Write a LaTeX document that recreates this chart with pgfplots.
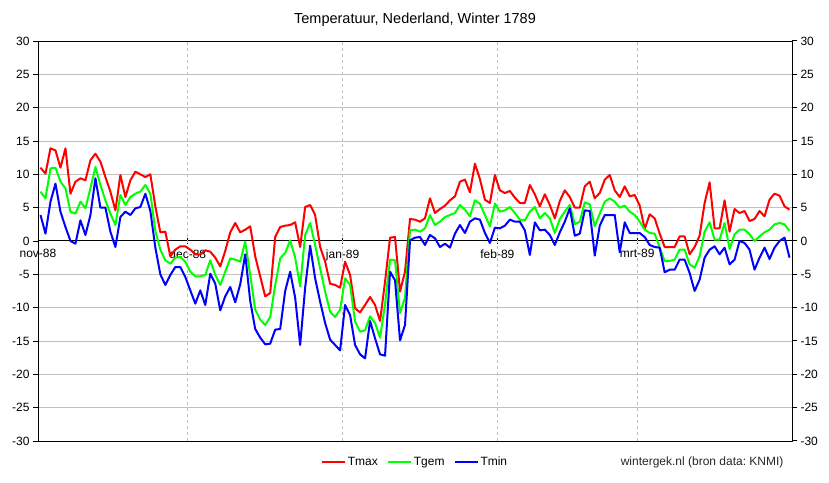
\documentclass[border=0pt]{standalone}
\usepackage{pgfplots}
\usepackage{pgfplotstable}
\pgfplotsset{compat=1.18}
\usepackage{fontspec}
\setmainfont{Liberation Sans}
\frenchspacing

\newcommand\chartfont{\fontsize{12bp}{14bp}\selectfont}
\newcommand\titlefont{\fontsize{14.5bp}{17bp}\selectfont}

\definecolor{tmaxc}{RGB}{255,0,0}
\definecolor{tgemc}{RGB}{0,255,0}
\definecolor{tminc}{RGB}{0,0,255}
\definecolor{gridc}{RGB}{192,192,192}

% daily temperatures, day 0 = 1 Nov 1788, day 150 = 31 Mar 1789
\pgfplotstableread{
d tmax tgem tmin
0 11.0 7.4 3.9
1 10.1 6.4 1.1
2 13.9 10.9 5.9
3 13.6 11.0 8.6
4 11.0 8.9 4.4
5 13.9 7.9 2.1
6 7.1 4.4 0.0
7 8.9 4.1 -0.4
8 9.4 5.9 3.1
9 9.1 4.9 0.9
10 12.1 7.9 3.9
11 13.1 11.1 9.4
12 11.9 8.4 5.0
13 9.6 6.1 5.0
14 7.4 4.1 1.4
15 4.6 2.4 -0.9
16 9.9 6.9 3.6
17 6.6 5.4 4.4
18 9.1 6.6 3.9
19 10.4 7.1 4.9
20 10.0 7.4 5.1
21 9.6 8.4 7.1
22 10.0 7.1 4.5
23 5.2 1.5 -1.0
24 1.3 -1.3 -5.0
25 1.4 -2.9 -6.6
26 -2.3 -3.4 -5.1
27 -1.3 -2.5 -3.9
28 -0.8 -2.4 -3.9
29 -0.8 -3.1 -5.4
30 -1.3 -4.6 -7.4
31 -2.0 -5.3 -9.4
32 -2.0 -5.3 -7.4
33 -1.4 -5.1 -9.6
34 -1.6 -2.9 -4.9
35 -2.5 -5.1 -6.4
36 -3.8 -6.6 -10.4
37 -1.5 -4.6 -8.3
38 1.3 -2.6 -6.9
39 2.7 -2.8 -9.2
40 1.3 -3.1 -6.5
41 1.7 -0.1 -2.0
42 2.2 -5.1 -9.0
43 -2.3 -10.3 -13.2
44 -5.3 -11.8 -14.5
45 -8.3 -12.6 -15.5
46 -7.8 -11.4 -15.4
47 0.6 -6.6 -13.3
48 2.1 -2.6 -13.2
49 2.3 -1.8 -7.5
50 2.4 0.1 -4.6
51 2.8 -2.5 -8.5
52 -0.9 -6.8 -15.6
53 5.1 0.9 -7.0
54 5.4 2.7 -0.7
55 3.9 -0.6 -5.6
56 -0.9 -4.1 -9.1
57 -3.1 -7.6 -12.3
58 -6.4 -10.6 -14.8
59 -6.6 -11.4 -15.6
60 -7.0 -10.3 -16.4
61 -3.1 -5.6 -9.6
62 -5.1 -6.6 -11.1
63 -10.1 -12.1 -15.6
64 -10.7 -13.6 -17.0
65 -9.6 -13.4 -17.6
66 -8.4 -11.3 -12.0
67 -9.6 -12.3 -14.6
68 -12.0 -14.5 -17.0
69 -6.1 -9.5 -17.2
70 0.5 -2.8 -4.6
71 0.6 -2.9 -5.9
72 -7.6 -10.8 -14.9
73 -4.6 -8.5 -12.6
74 3.3 1.6 0.1
75 3.2 1.7 0.5
76 2.9 1.4 0.6
77 3.4 1.9 -0.6
78 6.4 3.9 0.9
79 4.2 2.4 0.4
80 4.8 2.9 -0.9
81 5.3 3.6 -0.4
82 6.1 3.9 -1.0
83 6.7 4.2 1.1
84 8.9 5.4 2.4
85 9.2 4.7 1.2
86 7.3 3.7 2.9
87 11.6 6.1 3.4
88 9.3 5.6 3.2
89 6.2 3.9 1.2
90 5.7 2.2 -0.3
91 9.9 5.6 2.0
92 7.6 4.4 1.9
93 7.2 4.6 2.3
94 7.5 5.1 3.2
95 6.5 4.2 2.9
96 5.7 3.2 2.9
97 5.7 3.1 1.6
98 8.4 4.4 -2.1
99 7.0 5.1 2.8
100 5.2 3.4 1.6
101 7.0 4.2 1.7
102 5.4 3.4 0.9
103 3.4 1.2 -0.6
104 6.0 3.3 1.3
105 7.6 4.4 2.9
106 6.6 5.4 4.9
107 5.0 2.5 0.8
108 5.0 2.9 1.1
109 8.2 5.8 4.6
110 8.9 5.5 4.5
111 6.4 2.2 -2.2
112 7.2 4.1 2.3
113 9.2 5.9 3.9
114 9.9 6.4 3.9
115 7.6 5.9 3.9
116 6.6 5.0 -1.7
117 8.2 5.3 2.8
118 6.7 4.4 1.2
119 6.9 3.9 1.2
120 5.3 2.9 1.2
121 1.8 1.7 0.6
122 4.0 1.2 -0.6
123 3.4 1.1 -0.9
124 1.1 -1.0 -1.0
125 -0.9 -3.0 -4.7
126 -0.9 -3.0 -4.3
127 -0.9 -2.8 -4.3
128 0.7 -1.3 -2.8
129 0.7 -1.3 -2.8
130 -2.0 -3.5 -4.8
131 -0.9 -4.0 -7.5
132 0.8 -2.3 -5.8
133 5.7 1.4 -2.5
134 8.8 2.8 -1.3
135 1.9 0.2 -0.8
136 1.9 0.2 -2.0
137 6.1 2.7 -1.0
138 1.4 -1.2 -3.5
139 4.8 1.0 -2.8
140 4.2 1.7 0.0
141 4.5 1.7 -0.3
142 3.0 1.0 -1.3
143 3.3 0.0 -4.3
144 4.5 0.7 -2.5
145 3.7 1.3 -1.0
146 6.2 1.7 -2.7
147 7.1 2.5 -1.0
148 6.8 2.7 0.0
149 5.2 2.5 0.5
150 4.7 1.5 -2.5
}\tempdata

\pgfplotsset{
  frame/.style={
    scale only axis,
    width=754bp, height=400bp,
    xmin=-0.5, xmax=150.5,
    ymin=-30, ymax=30,
    /pgf/number format/assume math mode=true,
    tick label style={font=\chartfont, text=black},
    axis line style={black, line width=1bp},
    major tick length=5bp,
  },
}

\begin{document}
\begin{tikzpicture}
\path[use as bounding box] (-38bp,-42bp) rectangle (791bp,441bp);

% x axis through zero with the month ticks
\begin{axis}[frame,
  axis x line=middle, axis y line=none,
  axis line style={-, black, line width=1bp},
  xtick={-0.5,29.5,60.5,91.5,119.5},
  xticklabels={nov-88,dec-88,jan-89,feb-89,mrt-89},
  tick align=center, major tick length=6bp,
  tick style={black, line width=1bp},
  xticklabel style={anchor=north, yshift=-2bp},
  ytick=\empty,
]
\end{axis}

% framed plot area with the three series
\begin{axis}[frame,
  axis on top=false,
  clip=false,
  ytick={-30,-25,-20,-15,-10,-5,5,10,15,20,25,30},
  extra y ticks={0},
  extra y tick style={grid=none},
  ytick pos=left, tick align=outside,
  tick style={black, line width=1bp},
  ymajorgrids, y grid style={gridc, line width=1bp},
  xtick={29.5,60.5,91.5,119.5}, xticklabels={},
  xmajorticks=false,
  xmajorgrids, x grid style={gridc, line width=1bp, dash pattern=on 3bp off 3bp},
  no markers,
  every axis plot/.append style={line width=2bp, line join=round},
  legend columns=3,
  legend image code/.code={\draw[#1] (0bp,0bp) -- (23bp,0bp);},
  legend style={at={(0.5,-0.0525)}, anchor=center, draw=none, fill=none,
    font=\chartfont, inner sep=0pt,
    nodes={inner sep=1.5bp},
    /tikz/every even column/.append style={column sep=8bp}},
]
\addplot[tmaxc] table[x=d, y=tmax] {\tempdata};
\addplot[tgemc] table[x=d, y=tgem] {\tempdata};
\addplot[tminc] table[x=d, y=tmin] {\tempdata};
\legend{Tmax,Tgem,Tmin}
\node[font=\titlefont, anchor=center] at (rel axis cs:0.5,1.0525) {Temperatuur, Nederland, Winter 1789};
\node[font=\chartfont, text=black!85, anchor=east] at (rel axis cs:0.9934,-0.0525) {wintergek.nl (bron data: KNMI)};
\end{axis}

% tick labels repeated on the right
\begin{axis}[frame,
  axis x line=none, axis y line=right,
  axis line style={-, black, line width=1bp},
  ytick={-30,-25,...,30},
  tick align=outside,
  tick style={black, line width=1bp},
]
\end{axis}
\end{tikzpicture}
\end{document}
